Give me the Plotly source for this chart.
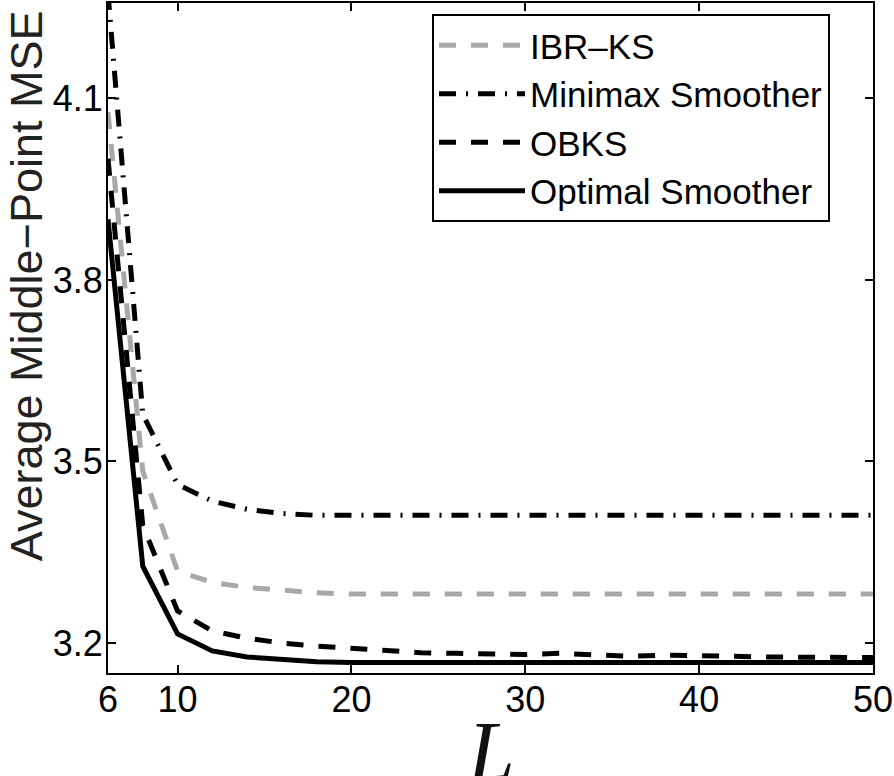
import plotly.graph_objects as go

L = [6, 8, 10, 12, 14, 16, 18, 20, 22, 24, 26, 28, 30, 32, 34, 36, 38, 40, 42, 44, 46, 48, 50]

ibr_ks = [4.077, 3.484, 3.319, 3.300, 3.292, 3.287, 3.283, 3.281, 3.281, 3.281, 3.281, 3.281,
          3.281, 3.281, 3.281, 3.281, 3.281, 3.281, 3.281, 3.281, 3.281, 3.281, 3.281]
minimax = [4.274, 3.578, 3.462, 3.4345, 3.421, 3.414, 3.411, 3.411, 3.411, 3.411, 3.411, 3.411,
           3.411, 3.411, 3.411, 3.411, 3.411, 3.411, 3.411, 3.411, 3.411, 3.411, 3.411]
obks = [4.000, 3.394, 3.253, 3.220, 3.208, 3.200, 3.195, 3.191, 3.187, 3.184, 3.183, 3.181,
        3.181, 3.183, 3.180, 3.178, 3.180, 3.178, 3.178, 3.177, 3.177, 3.177, 3.176]
optimal = [3.900, 3.327, 3.215, 3.187, 3.177, 3.172, 3.169, 3.168, 3.168, 3.168, 3.168, 3.168,
           3.168, 3.168, 3.168, 3.168, 3.168, 3.168, 3.168, 3.168, 3.168, 3.168, 3.168]

x_ticks = [6, 10, 20, 30, 40, 50]
y_ticks = [3.2, 3.5, 3.8, 4.1]

FONT = "Liberation Sans, Arial, Helvetica, sans-serif"

fig = go.Figure()
fig.add_trace(go.Scatter(x=L, y=ibr_ks, mode="lines", name="IBR\u2013KS",
                         line=dict(color="#a8a8a8", width=5, dash="17px,15px")))
fig.add_trace(go.Scatter(x=L, y=minimax, mode="lines", name="Minimax Smoother",
                         line=dict(color="black", width=5, dash="17px,10px,2px,10px")))
fig.add_trace(go.Scatter(x=L, y=obks, mode="lines", name="OBKS",
                         line=dict(color="black", width=5, dash="17px,15px")))
fig.add_trace(go.Scatter(x=L, y=optimal, mode="lines", name="Optimal Smoother",
                         line=dict(color="black", width=5)))

axis_common = dict(
    showline=True, linecolor="black", linewidth=2, mirror="allticks",
    ticks="inside", ticklen=8, tickwidth=2, tickcolor="black",
    showgrid=False, zeroline=False,
    tickfont=dict(family=FONT, size=36, color="black"),
)

fig.update_xaxes(range=[6, 50], tickvals=x_ticks, ticktext=[str(v) for v in x_ticks],
                 ticklabelstandoff=-6, **axis_common)
fig.update_yaxes(range=[3.1505, 4.2575], tickvals=y_ticks, ticktext=[f"{v:.1f}" for v in y_ticks],
                 ticklabelstandoff=-4, **axis_common)

fig.add_annotation(text="<i>L</i>", xref="paper", yref="paper", x=0.5, y=(673 - 752) / 672,
                   xanchor="center", yanchor="middle", showarrow=False,
                   font=dict(family="Liberation Serif, DejaVu Serif, serif", size=84, color="#111"))
fig.add_annotation(text="Average Middle\u2212Point MSE", xref="paper", yref="paper",
                   x=-0.143, y=(673 - 285) / 672, xanchor="left", yanchor="middle",
                   textangle=-90, showarrow=False,
                   font=dict(family=FONT, size=45, color="#222"))

fig.update_layout(
    width=894, height=776,
    margin=dict(l=108, r=21, t=1, b=103),
    paper_bgcolor="white", plot_bgcolor="white",
    showlegend=True,
    legend=dict(x=(432 - 108) / 765, y=(673 - 12) / 672, xanchor="left", yanchor="top",
                bgcolor="white", bordercolor="black", borderwidth=2,
                font=dict(family=FONT, size=35, color="black"),
                itemwidth=86, tracegroupgap=0),
)

fig.write_html("out.html", config={"displayModeBar": False},
               post_script="document.body.style.margin='0';document.body.style.padding='0';")
